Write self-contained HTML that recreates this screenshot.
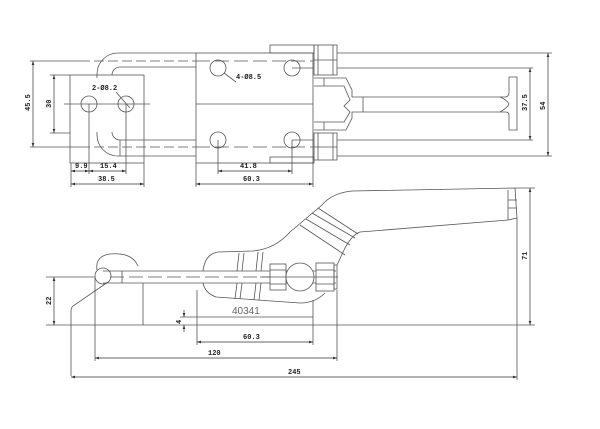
<!DOCTYPE html>
<html><head><style>
html,body{margin:0;padding:0;background:#fff;}
svg{display:block}
text{font-family:"Liberation Mono",monospace;font-size:7px;fill:#222;font-weight:bold}
</style></head><body>
<svg width="600" height="429" viewBox="0 0 600 429" xmlns="http://www.w3.org/2000/svg">
<defs>
<marker id="a" viewBox="0 0 6 4" refX="6" refY="2" markerWidth="6" markerHeight="4" orient="auto-start-reverse"><path d="M0,0L6,2L0,4z" fill="#333"/></marker>
</defs>
<g fill="none" stroke="#555" stroke-width="0.8">
<!-- TOP VIEW -->
<!-- U bar -->
<path d="M196,53 H118 A21,21 0 0 0 97,74 V78"/>
<path d="M196,67 H120 A8,8 0 0 0 112,75"/>
<path d="M196,156 H118 A21,21 0 0 1 97,135 V132"/>
<path d="M196,140 H120 A8,8 0 0 1 112,132"/>
<line x1="120" y1="140" x2="120" y2="156"/>
<path d="M80,61 H196 M80,147 H196" stroke-dasharray="10,4"/>
<path d="M196,61 H313 M196,147 H313" stroke-dasharray="14,5"/>
<!-- plate -->
<rect x="70" y="75" width="74" height="88"/>
<circle cx="89" cy="104" r="8"/><circle cx="126" cy="104" r="8"/>
<line x1="64" y1="104" x2="150" y2="104"/>
<!-- block -->
<rect x="196" y="53" width="117" height="110"/>
<line x1="196" y1="104" x2="313" y2="104"/>
<circle cx="218" cy="68" r="8"/><circle cx="292" cy="68" r="8"/>
<circle cx="218" cy="140" r="8"/><circle cx="292" cy="140" r="8"/>
<line x1="292" y1="68" x2="313" y2="68"/><line x1="292" y1="140" x2="313" y2="140"/>
<rect x="270" y="45" width="44" height="8"/><rect x="270" y="157" width="44" height="6"/>
<!-- nuts -->
<rect x="314" y="45" width="23" height="30"/><rect x="314" y="133" width="23" height="27"/>
<line x1="318" y1="45" x2="318" y2="75"/><line x1="333" y1="45" x2="333" y2="75"/>
<line x1="318" y1="133" x2="318" y2="160"/><line x1="333" y1="133" x2="333" y2="160"/>
<line x1="314" y1="60" x2="337" y2="60"/><line x1="314" y1="147" x2="337" y2="147"/>
<!-- fork -->
<path d="M314,78 H346 L352,90 V97 L363,97 M314,130 H346 L352,118 V112 L363,112"/>
<path d="M314,86 H344 L350,100 L344,106 L350,112 L344,122 H314"/>
<line x1="324" y1="78" x2="324" y2="86"/><line x1="324" y1="122" x2="324" y2="130"/>
<line x1="363" y1="97" x2="363" y2="112"/>
<!-- handle bar -->
<path d="M363,97 H505 Q509,97 509,92 V77 H517 V130 H509 V115 Q509,112 505,112 H363"/>
<path d="M500,97 Q507,100 509,104 Q507,108 500,112"/>
<!-- extension lines -->
<line x1="337" y1="53" x2="552" y2="53"/><line x1="337" y1="156" x2="552" y2="156"/>
<line x1="337" y1="68" x2="533" y2="68"/><line x1="337" y1="140" x2="533" y2="140"/>
<line x1="30" y1="61" x2="80" y2="61"/><line x1="30" y1="147" x2="80" y2="147"/>
<line x1="50" y1="75" x2="70" y2="75"/><line x1="50" y1="133" x2="70" y2="133"/>
<line x1="71" y1="163" x2="71" y2="187"/><line x1="144" y1="163" x2="144" y2="187"/>
<line x1="89" y1="104" x2="89" y2="174"/><line x1="126" y1="104" x2="126" y2="174"/>
<line x1="196" y1="163" x2="196" y2="187"/><line x1="313" y1="163" x2="313" y2="187"/>
<line x1="218" y1="140" x2="218" y2="174"/><line x1="292" y1="140" x2="292" y2="174"/>
<line x1="224" y1="73" x2="236" y2="82"/><line x1="130" y1="108" x2="116" y2="92"/>
</g>
<g stroke="#333" stroke-width="0.7" fill="none">
<line x1="33" y1="61" x2="33" y2="147" marker-start="url(#a)" marker-end="url(#a)"/>
<line x1="54" y1="75" x2="54" y2="133" marker-start="url(#a)" marker-end="url(#a)"/>
<line x1="71" y1="171" x2="89" y2="171" marker-start="url(#a)" marker-end="url(#a)"/>
<line x1="89" y1="171" x2="126" y2="171" marker-start="url(#a)" marker-end="url(#a)"/>
<line x1="71" y1="184" x2="144" y2="184" marker-start="url(#a)" marker-end="url(#a)"/>
<line x1="218" y1="171" x2="292" y2="171" marker-start="url(#a)" marker-end="url(#a)"/>
<line x1="196" y1="184" x2="313" y2="184" marker-start="url(#a)" marker-end="url(#a)"/>
<line x1="548" y1="53" x2="548" y2="156" marker-start="url(#a)" marker-end="url(#a)"/>
<line x1="530" y1="68" x2="530" y2="140" marker-start="url(#a)" marker-end="url(#a)"/>
</g>
<text x="75" y="168">9.9</text><text x="100" y="168">15.4</text><text x="98" y="181">38.5</text>
<text x="240" y="168">41.8</text><text x="243" y="181">60.3</text>
<text x="92" y="90">2-Ø8.2</text><text x="236" y="79">4-Ø8.5</text>
<text transform="translate(30,111) rotate(-90)">45.5</text>
<text transform="translate(51,108) rotate(-90)">30</text>
<text transform="translate(545,110) rotate(-90)">54</text>
<text transform="translate(527,111) rotate(-90)">37.5</text>

<!-- SIDE VIEW -->
<g fill="none" stroke="#555" stroke-width="0.8">
<path d="M97,270 Q95,256 110,254 Q132,252 138,266"/>
<circle cx="103" cy="276" r="8"/>
<line x1="103" y1="271" x2="336" y2="271"/><line x1="103" y1="283" x2="336" y2="283"/>
<line x1="110" y1="277" x2="300" y2="277" stroke-dasharray="14,5"/>
<line x1="122" y1="271" x2="122" y2="283"/>
<rect x="122" y="283" width="21" height="0"/>
<path d="M143,283 V325 H96"/>
<path d="M108,282 L73,306 Q71,308 71,311 V376"/>
<line x1="95" y1="278" x2="95" y2="361"/>
<!-- clamp body -->
<path d="M203,271 Q205,254 218,252 L253,251 Q275,249 290,232 L322,205 Q332,193 352,191 L515,188 L517,218 L508,220 L360,232 Q352,235 345,248 L337,265"/>
<path d="M203,283 Q205,293 216,297 L300,303 Q315,303 325,293"/>
<line x1="239" y1="253" x2="237" y2="271"/><line x1="244" y1="253" x2="242" y2="271"/>
<line x1="258" y1="252" x2="256" y2="271"/><line x1="263" y1="252" x2="261" y2="271"/>
<line x1="237" y1="283" x2="235" y2="299"/><line x1="242" y1="283" x2="240" y2="299"/>
<line x1="256" y1="283" x2="254" y2="300"/><line x1="261" y1="283" x2="259" y2="300"/>
<line x1="300" y1="225" x2="345" y2="255"/><line x1="306" y1="219" x2="350" y2="245"/>
<line x1="312" y1="213" x2="355" y2="238"/><line x1="318" y1="208" x2="358" y2="234"/>
<line x1="508" y1="190" x2="508" y2="220"/><line x1="508" y1="200" x2="517" y2="200"/><line x1="508" y1="208" x2="517" y2="208"/>
<!-- nuts & ball -->
<rect x="270" y="264" width="16" height="26" fill="#fff"/>
<line x1="270" y1="270" x2="286" y2="270"/><line x1="270" y1="284" x2="286" y2="284"/>
<circle cx="300" cy="277" r="14" fill="#fff"/>
<rect x="316" y="263" width="18" height="28" fill="#fff"/>
<line x1="316" y1="270" x2="334" y2="270"/><line x1="316" y1="284" x2="334" y2="284"/>
<rect x="334" y="265" width="3" height="24"/>
<line x1="260" y1="277" x2="338" y2="277"/>
<!-- extension lines -->
<line x1="46" y1="277" x2="95" y2="277"/>
<line x1="46" y1="325" x2="96" y2="325"/>
<line x1="143" y1="325" x2="535" y2="325"/>
<line x1="180" y1="317" x2="313" y2="317"/>
<line x1="197" y1="290" x2="197" y2="345"/>
<line x1="313" y1="300" x2="313" y2="345"/>
<line x1="337" y1="290" x2="337" y2="361"/>
<line x1="517" y1="218" x2="517" y2="380"/>
<line x1="515" y1="188" x2="535" y2="188"/>
</g>
<g stroke="#333" stroke-width="0.7" fill="none">
<line x1="54" y1="277" x2="54" y2="325" marker-start="url(#a)" marker-end="url(#a)"/>
<line x1="184" y1="310" x2="184" y2="317" marker-end="url(#a)"/>
<line x1="184" y1="332" x2="184" y2="325" marker-end="url(#a)"/>
<line x1="197" y1="342" x2="313" y2="342" marker-start="url(#a)" marker-end="url(#a)"/>
<line x1="95" y1="358" x2="337" y2="358" marker-start="url(#a)" marker-end="url(#a)"/>
<line x1="71" y1="377" x2="517" y2="377" marker-start="url(#a)" marker-end="url(#a)"/>
<line x1="530" y1="188" x2="530" y2="325" marker-start="url(#a)" marker-end="url(#a)"/>
</g>
<text x="243" y="339">60.3</text><text x="208" y="355">120</text><text x="288" y="374">245</text>
<text transform="translate(51,305) rotate(-90)">22</text>
<text transform="translate(181,324) rotate(-90)">4</text>
<text transform="translate(527,260) rotate(-90)">71</text>
<text x="232" y="314" style="font-family:'Liberation Sans',sans-serif;font-size:10px;font-weight:normal;fill:#666">40341</text>
</svg>
</body></html>
